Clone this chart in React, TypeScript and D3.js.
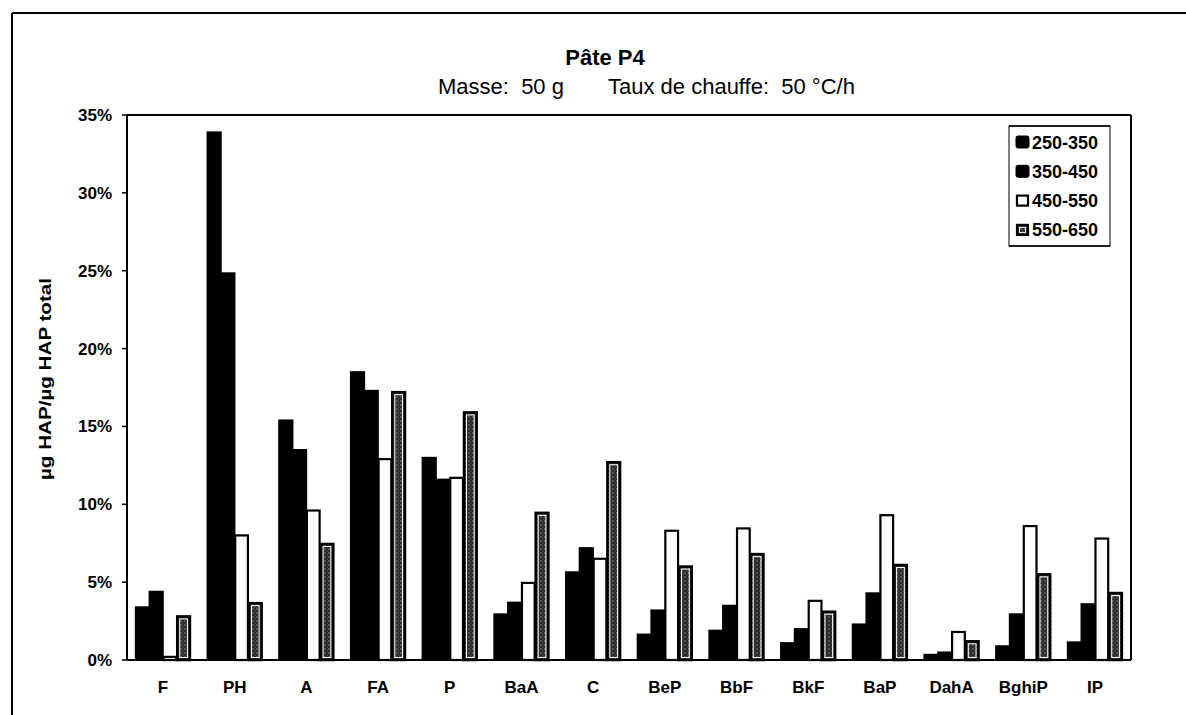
import React from "react";
import * as d3 from "d3";

const categories = ["F", "PH", "A", "FA", "P", "BaA", "C", "BeP", "BbF", "BkF", "BaP", "DahA", "BghiP", "IP"];
const seriesNames = ["250-350", "350-450", "450-550", "550-650"];
const s250_350 = [3.4, 33.9, 15.4, 18.5, 13.0, 2.95, 5.65, 1.65, 1.9, 1.1, 2.3, 0.35, 0.9, 1.15];
const s350_450 = [4.4, 24.85, 13.5, 17.3, 11.6, 3.7, 7.2, 3.2, 3.5, 2.0, 4.3, 0.5, 2.95, 3.6];
const s450_550 = [0.2, 8.0, 9.6, 12.9, 11.7, 4.95, 6.5, 8.3, 8.45, 3.8, 9.3, 1.8, 8.6, 7.8];
const s550_650 = [2.8, 3.65, 7.45, 17.2, 15.9, 9.45, 12.7, 6.0, 6.8, 3.1, 6.1, 1.2, 5.5, 4.3];
const yTicks = [0, 5, 10, 15, 20, 25, 30, 35];

const seriesValues = [s250_350, s350_450, s450_550, s550_650];

const W = 1186;
const H = 715;
const left = 127;
const right = 1131;
const top = 115;
const bottom = 660;

export default function App() {
  const x = d3.scaleBand<string>().domain(categories).range([left, right]).paddingInner(0.235).paddingOuter(0.12);
  const xs = d3.scaleBand<number>().domain([0, 1, 2, 3]).range([0, x.bandwidth()]).padding(0);
  const y = d3.scaleLinear().domain([0, 35]).range([bottom, top]);
  const font = "Arial, 'Liberation Sans', sans-serif";

  const renderBar = (si: number, v: number, cx: number, key: string) => {
    const bx = cx + (xs(si) as number);
    const bw = xs.bandwidth();
    const by = y(v);
    const bh = bottom - by;
    if (si === 0 || si === 1) {
      return <rect key={key} x={bx} y={by} width={bw} height={bh} fill="#000" stroke="#000" strokeWidth={1.5} />;
    }
    if (si === 2) {
      return <rect key={key} x={bx + 0.5} y={by} width={bw - 1} height={bh} fill="#fff" stroke="#000" strokeWidth={2.2} />;
    }
    return (
      <g key={key}>
        <rect x={bx + 0.5} y={by} width={bw - 1} height={bh} fill="url(#dots)" stroke="#000" strokeWidth={2.5} />
        {bh > 6 && (
          <rect x={bx + 3} y={by + 2.5} width={Math.max(0, bw - 6)} height={Math.max(0, bh - 5)} fill="none" stroke="#fff" strokeWidth={1} />
        )}
      </g>
    );
  };

  return (
    <svg width={W} height={H} style={{ position: "absolute", left: 0, top: 0, background: "#fff" }}>
      <defs>
        <pattern id="dots" width={4} height={4} patternUnits="userSpaceOnUse">
          <rect width={4} height={4} fill="#2b2b2b" />
          <circle cx={1} cy={1} r={0.7} fill="#9a9a9a" />
          <circle cx={3} cy={3} r={0.5} fill="#6a6a6a" />
        </pattern>
      </defs>
      <rect x={0} y={0} width={W} height={H} fill="#fff" />
      {/* outer frame (top + left) */}
      <line x1={12} y1={13} x2={W} y2={13} stroke="#000" strokeWidth={2} />
      <line x1={12} y1={13} x2={12} y2={H} stroke="#000" strokeWidth={2} />

      {/* titles */}
      <text x={605} y={65} textAnchor="middle" fontFamily={font} fontWeight="bold" fontSize={22} fill="#000">
        Pâte P4
      </text>
      <text x={438} y={94} textAnchor="start" fontFamily={font} fontSize={22} fill="#000" style={{ whiteSpace: "pre" }}>
        {"Masse:  50 g"}
      </text>
      <text x={608} y={94} textAnchor="start" fontFamily={font} fontSize={22} fill="#000" style={{ whiteSpace: "pre" }}>
        {"Taux de chauffe:  50 °C/h"}
      </text>

      {/* y axis title */}
      <text
        transform={`translate(51, 379) rotate(-90)`}
        textAnchor="middle"
        fontFamily={font}
        fontWeight="bold"
        fontSize={17}
        textLength={202}
        lengthAdjust="spacingAndGlyphs"
        fill="#000"
      >
        µg HAP/µg HAP total
      </text>

      {/* bars */}
      {categories.map((c, ci) => {
        const cx = x(c) as number;
        return <g key={c}>{seriesValues.map((vals, si) => renderBar(si, vals[ci], cx, `${c}-${si}`))}</g>;
      })}

      {/* plot frame */}
      <line x1={left} y1={top} x2={right} y2={top} stroke="#000" strokeWidth={2} />
      <line x1={right} y1={top} x2={right} y2={bottom} stroke="#000" strokeWidth={2} />
      <line x1={left} y1={top} x2={left} y2={bottom} stroke="#000" strokeWidth={2} />
      <line x1={left} y1={bottom} x2={right} y2={bottom} stroke="#000" strokeWidth={2} />

      {/* y ticks */}
      {yTicks.map((t) => (
        <g key={t}>
          <line x1={left - 5} x2={left} y1={y(t)} y2={y(t)} stroke="#000" strokeWidth={1.5} />
          <text x={112} y={y(t) + 6} textAnchor="end" fontFamily={font} fontWeight="bold" fontSize={17} fill="#000">
            {`${t}%`}
          </text>
        </g>
      ))}

      {/* x labels */}
      {categories.map((c) => (
        <text
          key={c}
          x={(x(c) as number) + x.bandwidth() / 2}
          y={693}
          textAnchor="middle"
          fontFamily={font}
          fontWeight="bold"
          fontSize={17}
          fill="#000"
        >
          {c}
        </text>
      ))}

      {/* legend */}
      <g>
        <rect x={1009} y={126} width={101} height={120} fill="#fff" stroke="#000" strokeWidth={1} />
        <line x1={1009} y1={126} x2={1110} y2={126} stroke="#000" strokeWidth={1.5} />
        <line x1={1009} y1={246} x2={1110} y2={246} stroke="#000" strokeWidth={1.5} />
        {seriesNames.map((n, i) => {
          const ly = 142 + i * 29.3;
          return (
            <g key={n}>
              {i < 2 && <rect x={1016} y={ly - 6} width={13} height={12} fill="#000" stroke="#000" rx={2} />}
              {i === 2 && <rect x={1017} y={ly - 5} width={11} height={10} fill="#fff" stroke="#000" strokeWidth={2.2} />}
              {i === 3 && (
                <g>
                  <rect x={1017} y={ly - 5} width={11} height={10} fill="url(#dots)" stroke="#000" strokeWidth={2.2} />
                  <rect x={1019.5} y={ly - 2.5} width={6} height={5} fill="none" stroke="#fff" strokeWidth={0.9} />
                </g>
              )}
              <text x={1032} y={ly + 6.5} fontFamily={font} fontWeight="bold" fontSize={18} fill="#000">
                {n}
              </text>
            </g>
          );
        })}
      </g>
    </svg>
  );
}
